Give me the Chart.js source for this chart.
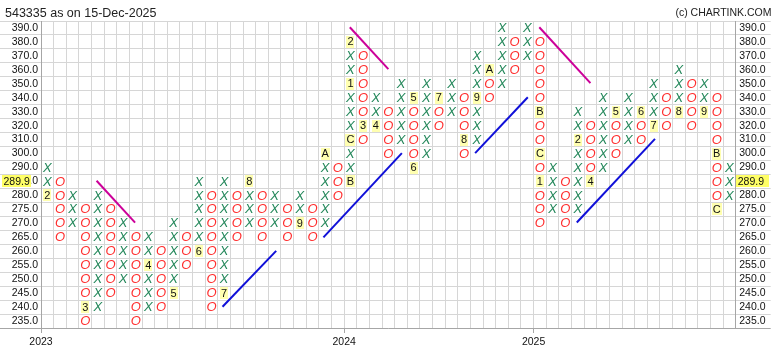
<!DOCTYPE html>
<html><head><meta charset="utf-8">
<script src="https://cdn.jsdelivr.net/npm/chart.js@4/dist/chart.umd.min.js"></script>
<style>html,body{margin:0;padding:0;background:#fff;}#wrap{width:778px;height:358px;position:relative}</style>
</head><body><div id="wrap"><canvas id="c" width="778" height="358"></canvas></div>
<script>
// ---- data ----
const titleText = '543335 as on 15-Dec-2025';
const copyrightText = '(c) CHARTINK.COM';
const priceRows = [235,240,245,250,255,260,265,270,275,280,285,290,300,310,320,330,340,350,360,370,380,390];
const lastPrice = 289.9;
const lastPriceRow = 285;
const colTypes = ['X','O','X','O','X','O','X','O','X','O','X','O','X','O','X','O','X','O','X','O','X','O','X','O','X','O','X','O','X','O','X','O','X','O','X','O','X','O','X','O','X','O','X','O','X','O','X','O','X','O','X','O','X','O','X'];
const colLows  = [280,265,270,235,240,245,250,235,240,240,245,255,260,240,245,265,270,265,270,265,270,265,270,280,285,310,320,300,310,290,300,320,330,300,310,340,350,360,370,270,275,270,275,285,290,300,310,310,320,320,330,320,330,275,280];
const colHighs = [290,285,280,275,280,275,270,265,265,260,270,265,285,280,285,280,285,280,280,275,280,275,300,290,380,370,340,330,350,340,350,340,350,340,370,360,390,380,390,380,290,285,330,320,340,330,340,330,350,340,360,350,350,340,290];
const monthMarks = [
  [0,280,'2'],[3,240,'3'],[8,255,'4'],[10,245,'5'],[12,260,'6'],[14,245,'7'],[16,285,'8'],[20,270,'9'],
  [22,300,'A'],[24,285,'B'],[24,310,'C'],[24,350,'1'],[24,380,'2'],[25,320,'3'],[26,320,'4'],
  [29,340,'5'],[29,290,'6'],[31,340,'7'],[33,310,'8'],[34,340,'9'],[35,360,'A'],
  [39,330,'B'],[39,300,'C'],[39,285,'1'],[42,310,'2'],[43,285,'4'],[45,330,'5'],[47,330,'6'],
  [48,320,'7'],[50,330,'8'],[52,330,'9'],[53,300,'B'],[53,275,'C']
];
const yearLabels = ['2023','2024','2025'];
const yearStartCols = [0,24,39];
// trend lines: [column, row index] endpoints
const bearishLines = [
  [[3.9,10.05],[6.95,7.05]],
  [[23.95,21.05],[27.0,18.05]],
  [[38.95,21.05],[43.0,17.05]]
];
const bullishLines = [
  [[13.87,1.02],[18.12,5.03]],
  [[21.86,5.99],[28.07,12.03]],
  [[33.87,12.03],[38.04,16.04]],
  [[41.92,7.06],[48.11,13.05]]
];

// ---- build ----
const ROWS = priceRows.length, COLS = colTypes.length;
const rowOf = p => priceRows.indexOf(p);
const markKey = {};
monthMarks.forEach(m => markKey[m[0] + '_' + m[1]] = m[2]);
const xCells = [], oCells = [], markCells = [];
for (let c = 0; c < COLS; c++) {
  for (let r = rowOf(colLows[c]); r <= rowOf(colHighs[c]); r++) {
    const k = c + '_' + priceRows[r];
    if (markKey[k] !== undefined) markCells.push({x: c, y: r, t: markKey[k]});
    else if (colTypes[c] === 'X') xCells.push({x: c, y: r});
    else oCells.push({x: c, y: r});
  }
}
const FONT = "'Liberation Sans', Arial, sans-serif";
Chart.defaults.font.family = FONT;
const lineDs = (seg, color) => ({type: 'scatter', showLine: true, data: seg.map(p => ({x: p[0], y: p[1]})),
  borderColor: color, borderWidth: 2, pointRadius: 0, pointHoverRadius: 0, fill: false});
const datasets = [];
bearishLines.forEach(s => datasets.push(lineDs(s, '#cc0099')));
bullishLines.forEach(s => datasets.push(lineDs(s, '#1010d8')));
datasets.push({data: xCells, glyph: 'X', pointRadius: 0, pointHoverRadius: 0});
datasets.push({data: oCells, glyph: 'O', pointRadius: 0, pointHoverRadius: 0});
datasets.push({data: markCells, glyph: 'mark', pointRadius: 0, pointHoverRadius: 0});

const glyphPlugin = {
  id: 'glyphs',
  afterDatasetsDraw(chart) {
    const ctx = chart.ctx;
    ctx.save();
    chart.data.datasets.forEach((ds, di) => {
      if (!ds.glyph) return;
      const meta = chart.getDatasetMeta(di);
      meta.data.forEach((el, i) => {
        const x = el.x, y = el.y;
        if (ds.glyph === 'mark') {
          const t = ds.data[i].t;
          ctx.font = '11px ' + FONT;
          const w = ctx.measureText(t).width;
          ctx.fillStyle = '#ffffb0';
          ctx.fillRect(Math.round(x - w / 2 - 1), Math.round(y - 6), Math.round(w + 2), 12);
          ctx.fillStyle = '#111';
          ctx.textAlign = 'center'; ctx.textBaseline = 'middle';
          ctx.fillText(t, x, y + 0.5);
        } else {
          ctx.font = 'italic 13px ' + FONT;
          ctx.fillStyle = ds.glyph === 'X' ? '#23875a' : '#ff2d2d';
          ctx.textAlign = 'center'; ctx.textBaseline = 'middle';
          ctx.fillText(ds.glyph, x, y + 0.5);
        }
      });
    });
    ctx.restore();
  },
  afterDraw(chart) {
    const ctx = chart.ctx;
    const ys = chart.scales.y;
    ctx.save();
    ctx.fillStyle = '#222';
    ctx.textBaseline = 'alphabetic';
    ctx.textAlign = 'left';
    ctx.font = '12.5px ' + FONT;
    ctx.fillText(titleText, 5, 17);
    ctx.textAlign = 'right';
    ctx.font = '10.5px ' + FONT;
    ctx.fillText(copyrightText, 771.5, 16);
    const py = ys.getPixelForValue(rowOf(lastPriceRow));
    const lbl = lastPrice.toFixed(1);
    ctx.fillStyle = '#ffff66';
    ctx.fillRect(2, Math.round(py - 6), 29, 12);
    ctx.fillRect(Math.round(chart.chartArea.right), Math.round(py - 6), 33, 12);
    ctx.fillStyle = '#111';
    ctx.textAlign = 'left'; ctx.textBaseline = 'middle';
    ctx.font = '10.5px ' + FONT;
    ctx.fillText(lbl, 3.5, py + 0.5);
    ctx.fillText(lbl, chart.chartArea.right + 2, py + 0.5);
    ctx.restore();
  }
};

const boundaryTicks = n => s => { s.ticks = []; for (let i = 0; i <= n; i++) s.ticks.push({value: i - 0.5}); };
const GRID = '#d6d6d6', AXIS = '#a6a6a6';
new Chart(document.getElementById('c'), {
  type: 'scatter',
  data: {datasets},
  options: {
    responsive: false, animation: false, devicePixelRatio: 1,
    layout: {padding: {top: 21, left: 0, right: 0, bottom: 0}},
    plugins: {legend: {display: false}, tooltip: {enabled: false}},
    events: [],
    scales: {
      x: {
        type: 'linear', min: -0.5, max: COLS - 0.5,
        afterBuildTicks: boundaryTicks(COLS),
        afterFit: s => { s.height = 30; },
        grid: {color: GRID, lineWidth: 1, drawTicks: true, tickLength: 5,
          tickColor: c => (c.tick && yearStartCols.includes(c.tick.value + 0.5)) ? AXIS : 'rgba(0,0,0,0)'},
        border: {color: AXIS},
        ticks: {autoSkip: false, maxRotation: 0, minRotation: 0, padding: 3, color: '#111', font: {size: 10.5},
          callback: v => { const k = yearStartCols.indexOf(v + 0.5); return k >= 0 ? yearLabels[k] : ''; }}
      },
      y: {
        type: 'linear', position: 'left', min: -0.5, max: ROWS - 0.5,
        afterBuildTicks: boundaryTicks(ROWS),
        afterFit: s => { s.width = 41; },
        grid: {color: GRID, lineWidth: 1, drawTicks: true, tickLength: 41,
          tickColor: c => c.index === 0 ? AXIS : GRID},
        border: {color: AXIS},
        ticks: {autoSkip: false, padding: -38, labelOffset: -7, color: '#111', font: {size: 10.5},
          callback: (v, i) => i < ROWS ? priceRows[i].toFixed(1) : ''}
      },
      y2: {
        type: 'linear', position: 'right', min: -0.5, max: ROWS - 0.5,
        afterBuildTicks: boundaryTicks(ROWS),
        afterFit: s => { s.width = 42.3; },
        grid: {drawOnChartArea: false, lineWidth: 1, drawTicks: true, tickLength: 35,
          tickColor: c => c.index === 0 ? AXIS : GRID},
        border: {color: AXIS},
        ticks: {autoSkip: false, padding: -31.5, labelOffset: -7, color: '#111', font: {size: 10.5},
          callback: (v, i) => i < ROWS ? priceRows[i].toFixed(1) : ''}
      }
    }
  },
  plugins: [glyphPlugin]
});
</script></body></html>
